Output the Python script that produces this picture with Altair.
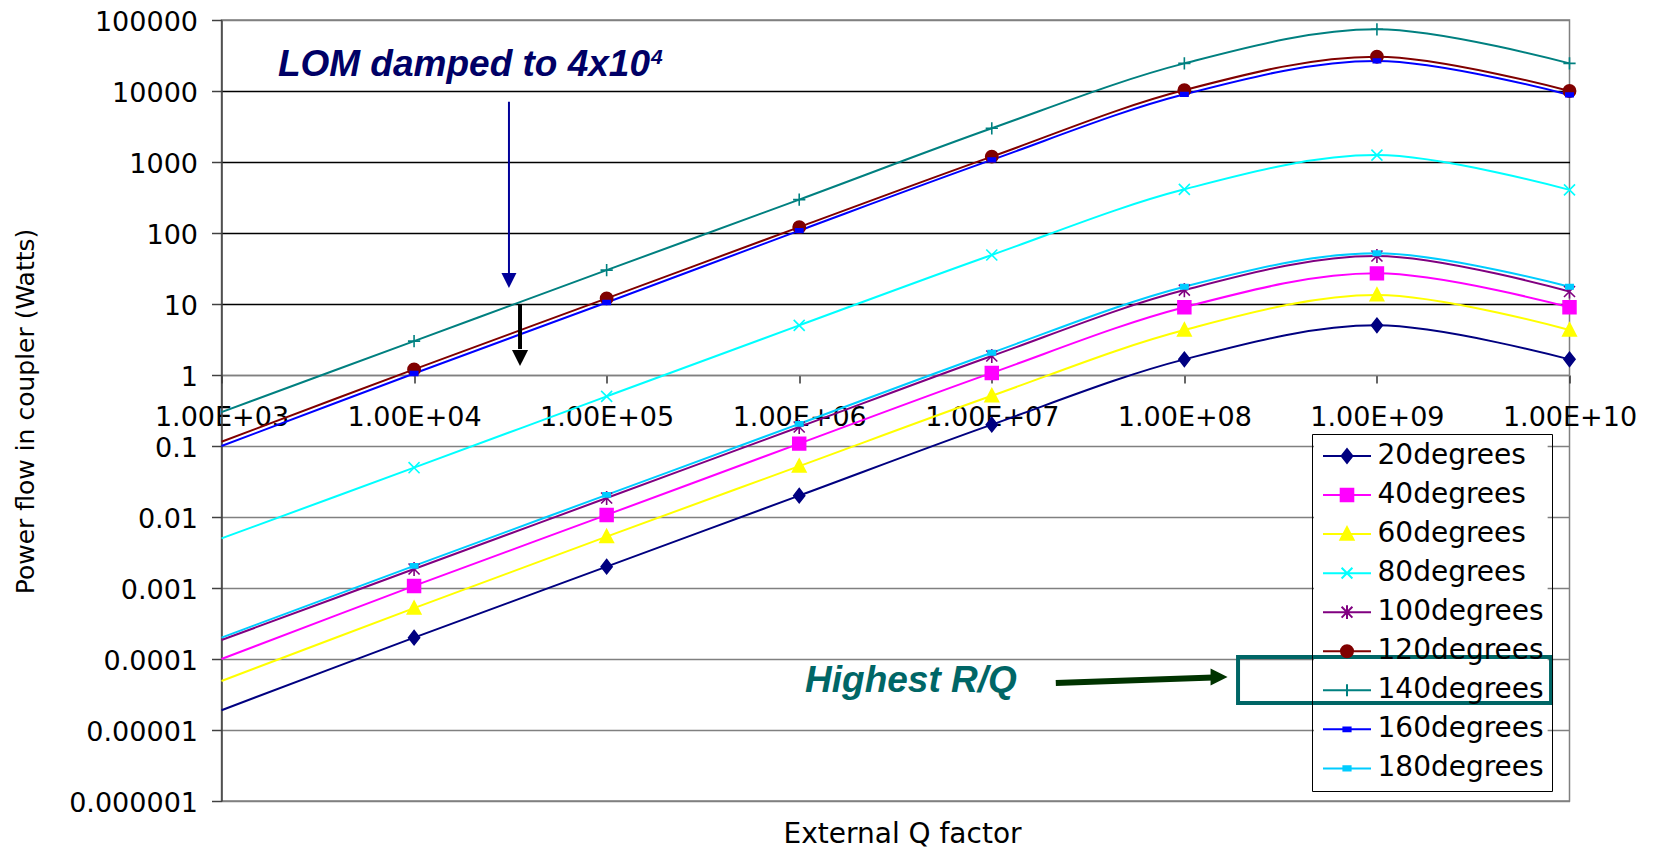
import altair as alt
import pandas as pd

# ---------------- data ----------------
q_values = [1e3, 1e4, 1e5, 1e6, 1e7, 1e8, 1e9, 1e10]
series_names = ["20degrees", "40degrees", "60degrees", "80degrees", "100degrees",
                "120degrees", "140degrees", "160degrees", "180degrees"]
p20 = [1.9e-5, 2.0e-4, 2.0e-3, 0.020, 0.20, 1.66, 5.0, 1.66]
p40 = [1.0e-4, 1.07e-3, 0.0107, 0.108, 1.07, 9.0, 27.0, 9.0]
p60 = [4.9e-5, 5.2e-4, 5.3e-3, 0.052, 0.51, 4.3, 13.4, 4.3]
p80 = [5.0e-3, 0.0495, 0.50, 5.0, 49.0, 412.0, 1250.0, 405.0]
p100 = [1.85e-4, 1.85e-3, 0.0185, 0.185, 1.85, 15.7, 47.5, 15.0]
p120 = [0.115, 1.2, 12.0, 121.0, 1190.0, 10300.0, 30400.0, 10000.0]
p140 = [0.30, 3.0, 30.0, 295.0, 2985.0, 24500.0, 74000.0, 24500.0]
p160 = [0.10, 1.05, 10.5, 108.0, 1070.0, 8980.0, 26500.0, 8800.0]
p180 = [2.0e-4, 2.05e-3, 0.0205, 0.205, 2.06, 17.5, 51.8, 17.5]
all_series = [p20, p40, p60, p80, p100, p120, p140, p160, p180]

y_ticks = [0.000001, 0.00001, 0.0001, 0.001, 0.01, 0.1, 1, 10, 100, 1000, 10000, 100000]

series_colors = ["#000080", "#FF00FF", "#FFFF00", "#00FFFF", "#800080",
                 "#800000", "#008080", "#0000FF", "#00CCFF"]
marker_paths = [
    "M0,-1.15L0.9,0L0,1.15L-0.9,0Z",
    "M-1.05,-1.05L1.05,-1.05L1.05,1.05L-1.05,1.05Z",
    "M0,-1.15L1.1,0.95L-1.1,0.95Z",
    "M-0.9,-0.9L0.9,0.9M-0.9,0.9L0.9,-0.9",
    "M-0.9,-0.9L0.9,0.9M-0.9,0.9L0.9,-0.9M0,-1.15L0,1.15",
    "M1,0A1,1,0,1,1,-1,0A1,1,0,1,1,1,0Z",
    "M-1,0L1,0M0,-1L0,1",
    "M-0.6,-0.3L0.6,-0.3L0.6,0.3L-0.6,0.3Z",
    "M-0.6,-0.35L0.6,-0.35L0.6,0.35L-0.6,0.35Z",
]
legend_paths = ["M-4,0L4,0" + p for p in marker_paths]

rows = []
for name, vals in zip(series_names, all_series):
    for q, v in zip(q_values, vals):
        rows.append({"Q": q, "P": v, "series": name})
df = pd.DataFrame(rows)

# legend generator rows: placed outside the x domain, clipped away
legend_df = pd.DataFrame({"series": series_names, "Q": [1e12] * len(series_names), "P": [1.0] * len(series_names)})

# annotation data (positions in data space)
rule_df = pd.DataFrame([
    {"Q": 31100, "Q2": 31100, "P": 7060, "P2": 27.3, "kind": "blue"},
    {"Q": 35500, "Q2": 35500, "P": 10, "P2": 2.32, "kind": "black"},
    {"Q": 2.15e7, "Q2": 1.41e8, "P": 4.59e-5, "P2": 5.49e-5, "kind": "green"},
])
head_df = pd.DataFrame([
    {"Q": 31100, "P": 21.4, "kind": "blue"},
    {"Q": 35500, "P": 1.735, "kind": "black"},
    {"Q": 1.514e8, "P": 5.57e-5, "kind": "green"},
])
legend_bg_df = pd.DataFrame([{"Q": 4.713e8, "Q2": 7.70e9, "P": 0.1383, "P2": 1.476e-6}])
box_df = pd.DataFrame([{"Q": 1.90e8, "Q2": 8.02e9, "P": 1.067e-4, "P2": 2.40e-5}])
lom_df = pd.DataFrame([{"Q": 1.68e5, "P": 16260, "label": "LOM damped to 4x10"}])
sup_df = pd.DataFrame([{"Q": 1.70e5, "P": 24000, "label": "4"}])
rq_df = pd.DataFrame([{"Q": 1.072e6, "P": 3.46e-5, "label": "Highest R/Q"}])

FONT = "DejaVu Sans"
AFONT = "Liberation Sans"

x_scale = alt.Scale(type="log", domain=[1e3, 1e10], nice=False)
y_scale = alt.Scale(type="log", domain=[1e-6, 1e5], nice=False)

x_axis = alt.Axis(
    values=q_values,
    labelExpr="'1.00E+' + format(round(log(datum.value)/LN10), '02d')",
    grid=False, offset=-426, tickSize=8, labelPadding=21,
    labelFont=FONT, labelFontSize=27, labelColor="black",
    labelFlush=False, labelOverlap=False,
    domainColor="#808080", domainWidth=1.5, tickColor="#333333", tickWidth=1.5,
    title="External Q factor", titleFont=FONT, titleFontSize=28,
    titleFontWeight="normal", titleColor="black",
    titleX=680.5, titleY=467, titleAlign="center", titleBaseline="alphabetic",
)
y_axis = alt.Axis(
    values=y_ticks,
    labelExpr="datum.value >= 1 ? format(datum.value, '.0f') : format(datum.value, '.6~f')",
    grid=True,
    gridColor={"condition": {"test": "datum.value >= 5 && datum.value <= 50000", "value": "#000000"},
               "value": "#808080"},
    gridWidth=1.3,
    tickSize=10, labelPadding=14, labelOffset=2.5, labelFont=FONT, labelFontSize=27,
    labelColor="black", labelFlush=False, labelOverlap=False,
    domainColor="#404040", domainWidth=1.5, tickColor="#404040", tickWidth=1.5,
    title="Power flow in coupler (Watts)", titleFont=FONT, titleFontSize=25,
    titleFontWeight="normal", titleColor="black",
    titleX=-196.5, titleY=391, titleAngle=270, titleAlign="center", titleBaseline="middle",
)

legend = alt.Legend(
    title=None, orient="none", legendX=1090.5, legendY=414,
    strokeColor="black", padding=8,
    symbolSize=144, symbolStrokeWidth=2, symbolOffset=13, labelOffset=16.5,
    labelFont=FONT, labelFontSize=28, labelColor="black", rowPadding=11.05,
    labelLimit=400,
)

color_scale = alt.Scale(domain=series_names, range=series_colors)
shape_scale = alt.Scale(domain=series_names, range=marker_paths)
legend_shape_scale = alt.Scale(domain=series_names, range=legend_paths)


def X(field="Q"):
    return alt.X(f"{field}:Q", scale=x_scale, axis=x_axis)


def Y(field="P"):
    return alt.Y(f"{field}:Q", scale=y_scale, axis=y_axis)


base = alt.Chart(df)

lines = base.mark_line(interpolate="cardinal", tension=0, strokeWidth=2).encode(
    x=X(), y=Y(),
    stroke=alt.Stroke("series:N", scale=color_scale, legend=None),
)

points = base.transform_filter("datum.Q > 1500").mark_point(
    filled=True, size=150, opacity=1, strokeWidth=1.6
).encode(
    x=X(), y=Y(),
    fill=alt.Fill("series:N", scale=color_scale, legend=None),
    stroke=alt.Stroke("series:N", scale=color_scale, legend=None),
    shape=alt.Shape("series:N", scale=shape_scale, legend=None),
)

legend_layer = alt.Chart(legend_df).mark_point(
    filled=True, size=144, opacity=1, strokeWidth=2, clip=True
).encode(
    x=X(), y=Y(),
    fill=alt.Fill("series:N", scale=color_scale, legend=legend),
    stroke=alt.Stroke("series:N", scale=color_scale, legend=legend),
    shape=alt.Shape("series:N", scale=legend_shape_scale, legend=legend),
)

# white backing behind the legend box (so the highlight box can sit above it)
legend_bg = alt.Chart(legend_bg_df).mark_rect(fill="white", strokeWidth=0).encode(
    x=X(), x2="Q2:Q", y=Y(), y2="P2:Q",
)

ann_color = alt.Scale(domain=["blue", "black", "green"], range=["#000099", "#000000", "#003300"])

shafts = alt.Chart(rule_df).mark_rule().encode(
    x=X(), x2="Q2:Q", y=Y(), y2="P2:Q",
    color=alt.Color("kind:N", scale=ann_color, legend=None),
    strokeWidth=alt.StrokeWidth("kind:N", scale=alt.Scale(domain=["blue", "black", "green"], range=[2, 6, 5]), legend=None),
)

heads = alt.Chart(head_df).mark_point(filled=True, opacity=1, strokeWidth=0).encode(
    x=X(), y=Y(),
    fill=alt.Fill("kind:N", scale=ann_color, legend=None),
    shape=alt.Shape("kind:N", scale=alt.Scale(domain=["blue", "black", "green"],
                    range=["M-1,-1L1,-1L0,1Z", "M-1,-1L1,-1L0,1Z", "M-1,-1L1,0L-1,1Z"]), legend=None),
    size=alt.Size("kind:N", scale=alt.Scale(domain=["blue", "black", "green"], range=[225, 289, 289]), legend=None),
)

box = alt.Chart(box_df).mark_rect(fillOpacity=0, stroke="#006666", strokeWidth=4).encode(
    x=X(), x2="Q2:Q", y=Y(), y2="P2:Q",
)

lom = alt.Chart(lom_df).mark_text(
    font=AFONT, fontSize=37, fontWeight="bold", fontStyle="italic", color="#000066",
    align="right", baseline="alphabetic",
).encode(x=X(), y=Y(), text="label:N")

sup = alt.Chart(sup_df).mark_text(
    font=AFONT, fontSize=21, fontWeight="bold", fontStyle="italic", color="#000066",
    align="left", baseline="alphabetic",
).encode(x=X(), y=Y(), text="label:N")

rq = alt.Chart(rq_df).mark_text(
    font=AFONT, fontSize=37, fontWeight="bold", fontStyle="italic", color="#006666",
    align="left", baseline="alphabetic",
).encode(x=X(), y=Y(), text="label:N")

chart = alt.layer(lines, points, legend_layer, legend_bg, shafts, heads, box, lom, sup, rq).resolve_scale(
    color="independent", fill="independent", stroke="independent", shape="independent",
    size="independent", strokeWidth="independent"
).properties(
    width=1348, height=781,
    autosize=alt.AutoSizeParams(type="none"),
    padding={"left": 213.5, "top": 12, "right": 75, "bottom": 48},
    background="white",
).configure_view(stroke="#808080", strokeWidth=1.5)

chart.save("out.html", embed_options={"renderer": "svg", "actions": False})
